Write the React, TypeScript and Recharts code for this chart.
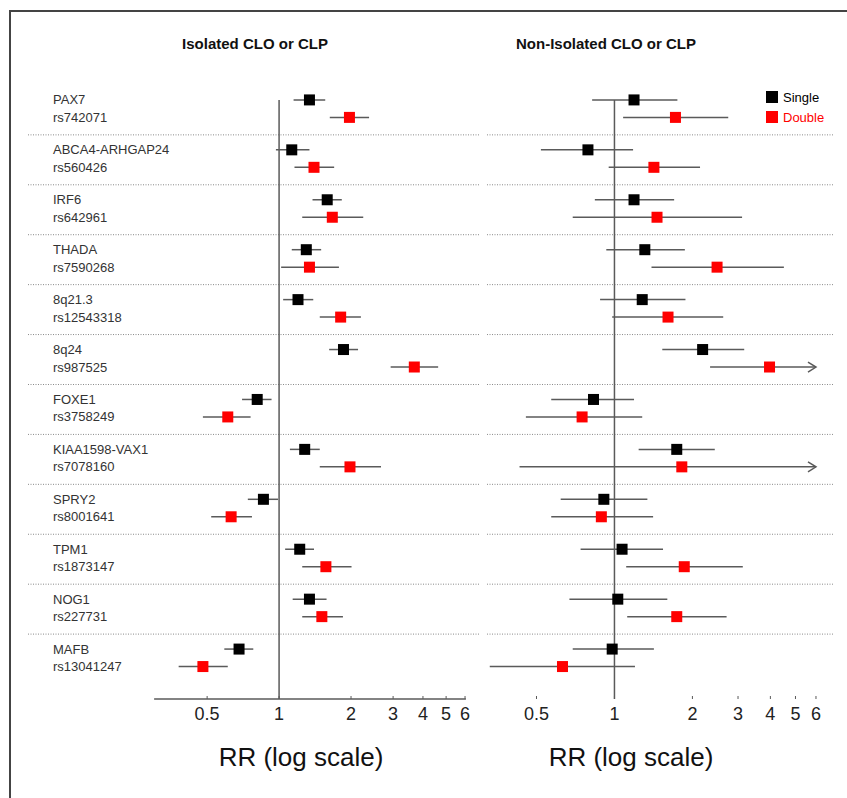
import { ScatterChart, Scatter, XAxis, YAxis, ErrorBar, ReferenceLine, Legend } from 'recharts'

const genes = ['PAX7', 'ABCA4-ARHGAP24', 'IRF6', 'THADA', '8q21.3', '8q24', 'FOXE1', 'KIAA1598-VAX1', 'SPRY2', 'TPM1', 'NOG1', 'MAFB']
const snps = ['rs742071', 'rs560426', 'rs642961', 'rs7590268', 'rs12543318', 'rs987525', 'rs3758249', 'rs7078160', 'rs8001641', 'rs1873147', 'rs227731', 'rs13041247']

const rrTicks = [0.5, 1, 2, 3, 4, 5, 6]

const seriesNames = ['Single', 'Double']
const seriesColors = ['#000000', '#ff0000']

// isolated CLO or CLP
const isoSingleRR = [1.34, 1.13, 1.59, 1.3, 1.2, 1.86, 0.81, 1.28, 0.86, 1.22, 1.34, 0.68]
const isoSingleLo = [1.15, 0.97, 1.38, 1.13, 1.04, 1.62, 0.7, 1.11, 0.74, 1.06, 1.14, 0.59]
const isoSingleHi = [1.56, 1.34, 1.83, 1.5, 1.39, 2.14, 0.93, 1.48, 0.99, 1.4, 1.58, 0.78]
const isoDoubleRR = [1.97, 1.4, 1.67, 1.34, 1.81, 3.68, 0.61, 1.98, 0.63, 1.57, 1.51, 0.48]
const isoDoubleLo = [1.63, 1.16, 1.25, 1.02, 1.48, 2.93, 0.48, 1.48, 0.52, 1.25, 1.25, 0.38]
const isoDoubleHi = [2.38, 1.7, 2.25, 1.78, 2.2, 4.63, 0.76, 2.67, 0.77, 2.01, 1.85, 0.61]

// non-isolated CLO or CLP
const nonSingleRR = [1.19, 0.79, 1.19, 1.31, 1.28, 2.19, 0.83, 1.74, 0.91, 1.07, 1.03, 0.98]
const nonSingleLo = [0.82, 0.52, 0.84, 0.93, 0.88, 1.53, 0.57, 1.24, 0.62, 0.74, 0.67, 0.69]
const nonSingleHi = [1.75, 1.18, 1.7, 1.87, 1.88, 3.17, 1.19, 2.44, 1.34, 1.54, 1.6, 1.42]
const nonDoubleRR = [1.72, 1.42, 1.46, 2.49, 1.61, 3.97, 0.75, 1.82, 0.89, 1.86, 1.74, 0.63]
const nonDoubleLo = [1.08, 0.95, 0.69, 1.39, 0.98, 2.34, 0.455, 0.43, 0.57, 1.11, 1.12, 0.33]
const nonDoubleHi = [2.75, 2.14, 3.11, 4.51, 2.63, 6, 1.28, 6, 1.41, 3.13, 2.71, 1.2]
// upper limit runs off the axis (drawn as arrow)
const nonDoubleOpen = [false, false, false, false, false, true, false, true, false, false, false, false]

const FONT = "'Liberation Sans', Arial, Helvetica, sans-serif"
const DOUBLE_OFFSET = 0.35
const SEP_OFFSET = 0.7
const BAR_COLOR = '#5a5a5a'

function toRows(est: number[], lo: number[], hi: number[], offset: number) {
  return est.map((v, i) => ({ x: v, y: i + offset, err: [v - lo[i], hi[i] - v] }))
}

const squareShape = (color: string) => (props: any) => (
  <rect x={props.cx - 5.5} y={props.cy - 5.5} width={11} height={11} fill={color} />
)

const arrowShape = (props: any) => (
  <path d={`M${props.cx - 8},${props.cy - 5} L${props.cx},${props.cy} L${props.cx - 8},${props.cy + 5}`}
    fill="none" stroke={BAR_COLOR} strokeWidth={1.5} />
)

const labelShape = (props: any) => (
  <text x={props.cx + 25} y={props.cy} dy="0.35em" textAnchor="start" fontSize={13} fontFamily={FONT} fill="#333">
    {props.payload.label}
  </text>
)

const RRTick = (props: any) => {
  const { x, y, payload } = props
  return (
    <g>
      <line x1={x} x2={x} y1={y} y2={y - 3} stroke={BAR_COLOR} strokeWidth={1} />
      <text x={x} y={y + 21} textAnchor="middle" fontSize={18} fontFamily={FONT} fill="#222">
        {payload.value}
      </text>
    </g>
  )
}

const LegendBox = () => (
  <div style={{ fontFamily: FONT, fontSize: 13 }}>
    {seriesNames.map((name, i) => (
      <div key={name} style={{ display: 'flex', alignItems: 'center', height: 20 }}>
        <span style={{ width: 12, height: 12, background: seriesColors[i], display: 'inline-block', marginRight: 5 }} />
        <span style={{ color: seriesColors[i] }}>{name}</span>
      </div>
    ))}
  </div>
)

type PanelProps = {
  width: number
  margin: { top: number; right: number; bottom: number; left: number }
  domain: [number, number]
  axisSpan: [number, number]
  single: any[]
  double: any[]
  arrows?: any[]
  labels?: boolean
  legend?: boolean
}

function Panel({ width, margin, domain, axisSpan, single, double, arrows, labels, legend }: PanelProps) {
  const labelRows = labels
    ? genes.flatMap((g, i) => [
        { x: domain[0], y: i, label: g },
        { x: domain[0], y: i + DOUBLE_OFFSET, label: snps[i] },
      ])
    : []
  return (
    <ScatterChart width={width} height={798} margin={margin}>
      <XAxis type="number" dataKey="x" scale="log" domain={domain} allowDataOverflow ticks={rrTicks}
        interval={0} axisLine={false} tickLine={false} tickSize={0} tickMargin={0} height={40} tick={<RRTick />} />
      {/* one spare row above the first group so labels are not clipped */}
      <YAxis type="number" dataKey="y" domain={[-1, 12]} reversed allowDataOverflow hide />
      {genes.slice(1).map((_, i) => (
        <ReferenceLine key={i} y={i + SEP_OFFSET} stroke="#8a8a8a" strokeDasharray="1 1.5" strokeWidth={1} />
      ))}
      <ReferenceLine segment={[{ x: 1, y: 0 }, { x: 1, y: 12 }]} stroke={BAR_COLOR} strokeWidth={1.5} />
      <ReferenceLine segment={[{ x: axisSpan[0], y: 12 }, { x: axisSpan[1], y: 12 }]} stroke={BAR_COLOR} strokeWidth={1.5} />
      {labels && (
        <Scatter name="labels" data={labelRows} shape={labelShape} legendType="none" isAnimationActive={false} />
      )}
      <Scatter name={seriesNames[0]} data={single} fill={seriesColors[0]} shape={squareShape(seriesColors[0])} isAnimationActive={false}>
        <ErrorBar dataKey="err" direction="x" width={0} stroke={BAR_COLOR} strokeWidth={1.5} isAnimationActive={false} />
      </Scatter>
      <Scatter name={seriesNames[1]} data={double} fill={seriesColors[1]} shape={squareShape(seriesColors[1])} isAnimationActive={false}>
        <ErrorBar dataKey="err" direction="x" width={0} stroke={BAR_COLOR} strokeWidth={1.5} isAnimationActive={false} />
      </Scatter>
      {arrows && (
        <Scatter name="open" data={arrows} shape={arrowShape} legendType="none" isAnimationActive={false} />
      )}
      {legend && (
        <Legend layout="vertical" align="center" verticalAlign="middle" content={<LegendBox />}
          wrapperStyle={{ left: 286, top: 87, width: 80 }} />
      )}
    </ScatterChart>
  )
}

const textStyle = (left: number, top: number, size: number, bold: boolean): any => ({
  position: 'absolute', left: left - 150, top, width: 300, textAlign: 'center',
  fontFamily: FONT, fontSize: size, lineHeight: `${size + 4}px`, fontWeight: bold ? 'bold' : 'normal', color: '#111',
})

export default function App() {
  const isoSingle = toRows(isoSingleRR, isoSingleLo, isoSingleHi, 0)
  const isoDouble = toRows(isoDoubleRR, isoDoubleLo, isoDoubleHi, DOUBLE_OFFSET)
  const nonSingle = toRows(nonSingleRR, nonSingleLo, nonSingleHi, 0)
  const nonDouble = toRows(nonDoubleRR, nonDoubleLo, nonDoubleHi, DOUBLE_OFFSET)
  const nonArrows = nonDouble.filter((_, i) => nonDoubleOpen[i]).map(d => ({ x: d.x + d.err[1], y: d.y }))

  return (
    <div style={{ position: 'absolute', left: 0, top: 0, width: 847, height: 798, overflow: 'hidden', background: '#fff' }}>
      <div style={{ position: 'absolute', left: 9, top: 10, width: 900, height: 900, borderTop: '2px solid #444', borderLeft: '2px solid #444' }} />
      <div style={textStyle(255, 34, 15, true)}>Isolated CLO or CLP</div>
      <div style={textStyle(606, 34, 15, true)}>Non-Isolated CLO or CLP</div>
      <div style={{ position: 'absolute', left: 0, top: 0 }}>
        <Panel width={480} margin={{ top: 50, right: 0, bottom: 59, left: 28 }} domain={[0.089, 6.93]}
          axisSpan={[0.3, 6.05]} single={isoSingle} double={isoDouble} labels />
      </div>
      <div style={{ position: 'absolute', left: 480, top: 0 }}>
        <Panel width={367} margin={{ top: 50, right: 14, bottom: 59, left: 7 }} domain={[0.322, 6.98]}
          axisSpan={[0.32, 6]} single={nonSingle} double={nonDouble} arrows={nonArrows} legend />
      </div>
      <div style={textStyle(301, 742, 26, false)}>RR (log scale)</div>
      <div style={textStyle(631, 742, 26, false)}>RR (log scale)</div>
    </div>
  )
}
